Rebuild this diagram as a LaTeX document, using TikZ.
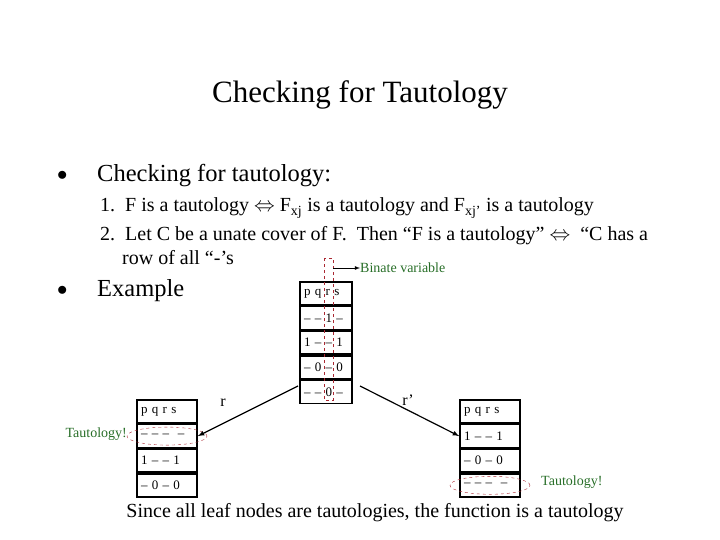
\documentclass[tikz,border=0pt]{standalone}
\usepackage{fontspec}
\setmainfont{Liberation Serif}
\usetikzlibrary{shapes.geometric,positioning}
\definecolor{tautgreen}{RGB}{40,110,40}
\definecolor{dashred}{RGB}{170,40,50}
\tikzset{
  cell/.style={draw, line width=1.6pt, minimum width=52pt, minimum height=23pt, inner sep=4pt, text width=44pt, align=left, font=\fontsize{13}{13}\selectfont},
  item/.style={anchor=west, inner sep=0pt, font=\fontsize{20}{20}\selectfont},
  green note/.style={text=tautgreen, inner sep=0pt, font=\fontsize{14}{14}\selectfont},
  red ring/.style={draw=dashred, dashed, thin}
}
\begin{document}
\begin{tikzpicture}[x=1pt, y=-1pt]
        \useasboundingbox (0,0) rectangle (720,540);
        \node[inner sep=0pt, font=\fontsize{31}{31}\selectfont] (title) at (360,95) {Checking for Tautology};
        
        \node[item, font=\fontsize{22}{22}\selectfont] (b1) at (57,176) {$\bullet$};
        \node[item, font=\fontsize{24.5}{24.5}\selectfont] (head) at (97,176) {Checking for tautology:};
        \node[item] (l1) at (100,208) {1.\ \ F is a tautology $\Leftrightarrow$ F\textsubscript{xj} is a tautology and F\textsubscript{xj’} is a tautology};
        \node[item] (l2) at (100,236) {2.\ \ Let C be a unate cover of F.\ \ Then “F is a tautology” $\Leftrightarrow$ \ “C has a};
        \node[item] (l3) at (122,258) {row of all “-’s};
        \node[item, font=\fontsize{22}{22}\selectfont] (b2) at (57,291) {$\bullet$};
        \node[item, font=\fontsize{24.5}{24.5}\selectfont] (ex) at (97,291) {Example};
        
        % top cover
        \node[cell, minimum width=52pt, text width=44pt] (t0) at (326,293.5) {p q r s};
        \node[cell, minimum width=52pt, text width=44pt, below=0pt of t0] (t1) {– – 1 –};
        \node[cell, minimum width=52pt, text width=44pt, below=0pt of t1] (t2) {1 – – 1};
        \node[cell, minimum width=52pt, text width=44pt, below=0pt of t2] (t3) {– 0 – 0};
        \node[cell, minimum width=52pt, text width=44pt, below=0pt of t3] (t4) {– – 0 –};
        \draw[red ring] (324,258) rectangle (333,400);
        \coordinate (bv) at (333,268);
        \node[green note, anchor=west] (binate) at (360,268) {Binate variable};
        \draw[thick, -latex] (bv) -- (binate.west);
        
        % left cofactor
        \node[cell, text width=52pt] (a0) at (167,411.5) {p q r s};
        \node[cell, text width=52pt, below=0pt of a0] (a1) {– – – \ –};
        \node[cell, text width=52pt, below=0pt of a1] (a2) {1 – – 1};
        \node[cell, text width=52pt, below=0pt of a2] (a3) {– 0 – 0};
        \draw[red ring] (a1) ellipse (40pt and 9pt);
        \node[green note, anchor=east] (tl) at (127,434) {Tautology!};
        
        % right cofactor
        \node[cell, text width=52pt] (c0) at (490,411.5) {p q r s};
        \node[cell, text width=52pt, below=0pt of c0] (c1) {1 – – 1};
        \node[cell, text width=52pt, below=0pt of c1] (c2) {– 0 – 0};
        \node[cell, text width=52pt, below=0pt of c2] (c3) {– – – \ –};
        \draw[red ring] (c3) ellipse (40pt and 9pt);
        \node[green note, anchor=west] (tr) at (541,482) {Tautology!};
        
        \coordinate (sl) at (298,386);
        \coordinate (sr) at (360,386);
        \draw[line width=1.2pt, -latex] (sl) -- (a1.east);
        \draw[line width=1.2pt, -latex] (sr) -- (c1.west);
        \node[font=\fontsize{16}{16}\selectfont, inner sep=0pt] (rl) at (223,403) {r};
        \node[font=\fontsize{16}{16}\selectfont, inner sep=0pt] (rr) at (408,400) {r’};
        
        \node[inner sep=0pt, font=\fontsize{20}{20}\selectfont] (concl) at (375,513) {Since all leaf nodes are tautologies, the function is a tautology};
\end{tikzpicture}
\end{document}
